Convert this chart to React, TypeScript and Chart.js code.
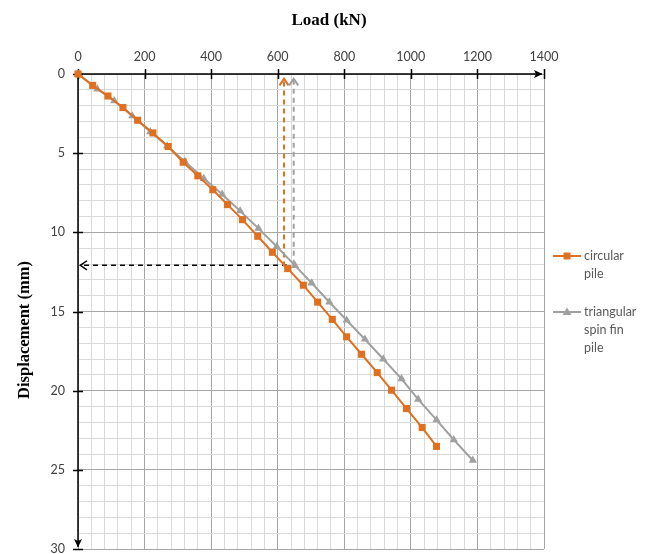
import React, { useEffect, useRef } from 'react';
import { Chart, registerables } from 'chart.js';

Chart.register(...registerables);

// ---- data ----
const circularLoad = [0, 44, 90, 135, 179, 225, 271, 316, 360, 405, 449, 494, 540, 584, 630, 677, 720, 764, 807, 852, 899, 942, 987, 1034, 1077];
const circularDisp = [0, 0.72, 1.39, 2.12, 2.92, 3.72, 4.58, 5.57, 6.43, 7.31, 8.25, 9.2, 10.25, 11.26, 12.29, 13.34, 14.41, 15.5, 16.6, 17.7, 18.86, 19.97, 21.13, 22.33, 23.52];

const triLoad = [0, 58, 109, 163, 217, 268, 321, 378, 433, 487, 542, 597, 652, 702, 755, 807, 862, 917, 972, 1022, 1077, 1129, 1186];
const triDisp = [0, 0.95, 1.7, 2.65, 3.65, 4.55, 5.52, 6.6, 7.6, 8.65, 9.75, 10.9, 12.1, 13.2, 14.4, 15.55, 16.75, 18.0, 19.25, 20.55, 21.85, 23.1, 24.4];

// guide arrows (from start to arrow tip)
const guideOrangeLoad = [619, 619];
const guideOrangeDisp = [12.15, 0.3];
const guideGrayLoad = [648, 648];
const guideGrayDisp = [12.05, 0.3];
const guideBlackLoad = [628, 7];
const guideBlackDisp = [12.08, 12.08];

const xTickLabels = [0, 200, 400, 600, 800, 1000, 1200, 1400];
const yTickLabels = [0, 5, 10, 15, 20, 25, 30];

const seriesNames = [['circular', 'pile'], ['triangular', 'spin fin', 'pile']];
const xTitle = 'Load (kN)';
const yTitle = 'Displacement (mm)';

const ORANGE = '#e0701f';
const GRAY = '#a0a0a0';

const toPts = (xs: number[], ys: number[]) => xs.map((v, i) => ({ x: v, y: ys[i] }));

const decoPlugin = {
  id: 'deco',
  beforeDatasetsDraw(chart: any) {
    const { ctx, chartArea, scales } = chart;
    const { left, top, right, bottom } = chartArea;
    const xs = scales.x;
    const ys = scales.y;
    ctx.save();
    ctx.strokeStyle = '#000';
    ctx.fillStyle = '#000';
    ctx.lineWidth = 1.5;
    ctx.beginPath();
    ctx.moveTo(left, top);
    ctx.lineTo(right - 2, top);
    ctx.stroke();
    ctx.beginPath();
    xTickLabels.forEach((v) => {
      const px = Math.round(xs.getPixelForValue(v)) + 0.5;
      ctx.moveTo(px, top - 5);
      ctx.lineTo(px, top + 5);
    });
    ctx.stroke();
    ctx.beginPath();
    ctx.moveTo(right - 1.5, top);
    ctx.lineTo(right - 10, top - 4);
    ctx.lineTo(right - 8, top);
    ctx.lineTo(right - 10, top + 4);
    ctx.closePath();
    ctx.fill();
    ctx.beginPath();
    ctx.moveTo(left, top);
    ctx.lineTo(left, bottom - 2);
    ctx.stroke();
    ctx.beginPath();
    yTickLabels.forEach((v) => {
      const py = Math.round(ys.getPixelForValue(v)) + 0.5;
      ctx.moveTo(left - 5, py);
      ctx.lineTo(left + 5, py);
    });
    ctx.stroke();
    ctx.beginPath();
    ctx.moveTo(left, bottom - 1.5);
    ctx.lineTo(left - 4, bottom - 10);
    ctx.lineTo(left, bottom - 8);
    ctx.lineTo(left + 4, bottom - 10);
    ctx.closePath();
    ctx.fill();
    ctx.restore();
  },
  afterDatasetsDraw(chart: any) {
    const { ctx } = chart;
    ctx.save();
    chart.data.datasets.forEach((ds: any, i: number) => {
      if (!ds.arrow) return;
      const meta = chart.getDatasetMeta(i);
      const pts = meta.data;
      if (pts.length < 2) return;
      const a = pts[pts.length - 2];
      const b = pts[pts.length - 1];
      const ang = Math.atan2(b.y - a.y, b.x - a.x);
      const len = 8;
      const spread = 0.6;
      ctx.strokeStyle = ds.borderColor;
      ctx.lineWidth = ds.borderWidth;
      ctx.setLineDash([]);
      ctx.beginPath();
      ctx.moveTo(b.x - len * Math.cos(ang - spread), b.y - len * Math.sin(ang - spread));
      ctx.lineTo(b.x, b.y);
      ctx.lineTo(b.x - len * Math.cos(ang + spread), b.y - len * Math.sin(ang + spread));
      ctx.stroke();
    });
    ctx.restore();
  },
  afterDraw(chart: any) {
    const { ctx } = chart;
    ctx.save();
    ctx.fillStyle = '#000';
    ctx.font = 'bold 17px "Liberation Serif", "DejaVu Serif", serif';
    ctx.textAlign = 'center';
    ctx.textBaseline = 'middle';
    ctx.fillText(xTitle, 329, 21);
    ctx.save();
    ctx.translate(25, 330);
    ctx.rotate(-Math.PI / 2);
    ctx.font = 'bold 16.5px "Liberation Serif", "DejaVu Serif", serif';
    ctx.fillText(yTitle, 0, 0);
    ctx.restore();

    const entries = [
      { color: ORANGE, style: 'rect', y: 256, lines: seriesNames[0] },
      { color: GRAY, style: 'triangle', y: 312, lines: seriesNames[1] },
    ];
    ctx.font = '12.5px Lato, "Open Sans", sans-serif';
    ctx.textAlign = 'left';
    ctx.textBaseline = 'middle';
    entries.forEach((e) => {
      ctx.strokeStyle = e.color;
      ctx.fillStyle = e.color;
      ctx.lineWidth = 2;
      ctx.beginPath();
      ctx.moveTo(553, e.y);
      ctx.lineTo(581, e.y);
      ctx.stroke();
      ctx.beginPath();
      if (e.style === 'rect') {
        ctx.rect(567 - 3.5, e.y - 3.5, 7, 7);
      } else {
        ctx.moveTo(567, e.y - 4.5);
        ctx.lineTo(571.5, e.y + 3);
        ctx.lineTo(562.5, e.y + 3);
        ctx.closePath();
      }
      ctx.fill();
      ctx.fillStyle = '#595959';
      e.lines.forEach((t, k) => ctx.fillText(t, 584, e.y + k * 18));
    });
    ctx.restore();
  },
};

export default function App() {
  const ref = useRef<HTMLCanvasElement | null>(null);

  useEffect(() => {
    if (!ref.current) return;
    const chart = new Chart(ref.current, {
      type: 'line',
      data: {
        datasets: [
          {
            label: 'circular pile',
            data: toPts(circularLoad, circularDisp),
            borderColor: ORANGE,
            backgroundColor: ORANGE,
            borderWidth: 2,
            pointStyle: 'rect',
            pointRadius: 5,
            pointBorderWidth: 0,
            clip: false,
          } as any,
          {
            label: 'triangular spin fin pile',
            data: toPts(triLoad, triDisp),
            borderColor: GRAY,
            backgroundColor: GRAY,
            borderWidth: 2,
            pointStyle: 'triangle',
            pointRadius: 4.8,
            pointBorderWidth: 0,
            clip: false,
          } as any,
          {
            label: 'guide orange',
            data: toPts(guideOrangeLoad, guideOrangeDisp),
            borderColor: ORANGE,
            borderWidth: 2,
            borderDash: [5, 4],
            pointRadius: 0,
            arrow: true,
          } as any,
          {
            label: 'guide gray',
            data: toPts(guideGrayLoad, guideGrayDisp),
            borderColor: GRAY,
            borderWidth: 2,
            borderDash: [5, 4],
            pointRadius: 0,
            arrow: true,
          } as any,
          {
            label: 'guide black',
            data: toPts(guideBlackLoad, guideBlackDisp),
            borderColor: '#000',
            borderWidth: 1.5,
            borderDash: [5, 4],
            pointRadius: 0,
            arrow: true,
          } as any,
        ],
      },
      options: {
        responsive: false,
        animation: false,
        events: [],
        layout: { padding: { left: 0, top: 0, right: 113, bottom: 4 } },
        plugins: { legend: { display: false }, tooltip: { enabled: false }, title: { display: false } },
        scales: {
          x: {
            type: 'linear',
            position: 'top',
            min: 0,
            max: 1400,
            afterFit: (s: any) => {
              s.height = 74;
              s.paddingLeft = 0;
              s.paddingRight = 0;
            },
            border: { display: false },
            grid: {
              drawTicks: false,
              lineWidth: 1,
              color: (c: any) => (c.tick && xTickLabels.includes(c.tick.value) ? '#a6a6a6' : '#d9d9d9'),
            },
            ticks: {
              stepSize: 40,
              autoSkip: false,
              maxRotation: 0,
              padding: 10,
              color: '#404040',
              font: { family: 'Lato, "Open Sans", sans-serif', size: 12.5 },
              callback: (v: any) => (xTickLabels.includes(Number(v)) ? String(v) : ''),
            },
          },
          y: {
            type: 'linear',
            reverse: true,
            min: 0,
            max: 30,
            afterFit: (s: any) => {
              s.width = 78;
              s.paddingTop = 0;
              s.paddingBottom = 0;
            },
            border: { display: false },
            grid: {
              drawTicks: false,
              lineWidth: 1,
              color: (c: any) => (c.tick && yTickLabels.includes(c.tick.value) ? '#a6a6a6' : '#d9d9d9'),
            },
            ticks: {
              stepSize: 1,
              autoSkip: false,
              padding: 13,
              color: '#404040',
              font: { family: 'Lato, "Open Sans", sans-serif', size: 12.5 },
              callback: (v: any) => (yTickLabels.includes(Number(v)) ? String(v) : ''),
            },
          },
        },
      } as any,
      plugins: [decoPlugin],
    });
    return () => chart.destroy();
  }, []);

  return (
    <div style={{ position: 'absolute', left: 0, top: 0, width: 657, height: 554, background: '#fff' }}>
      <canvas ref={ref} width={657} height={554} style={{ display: 'block', width: 657, height: 554 }} />
    </div>
  );
}
